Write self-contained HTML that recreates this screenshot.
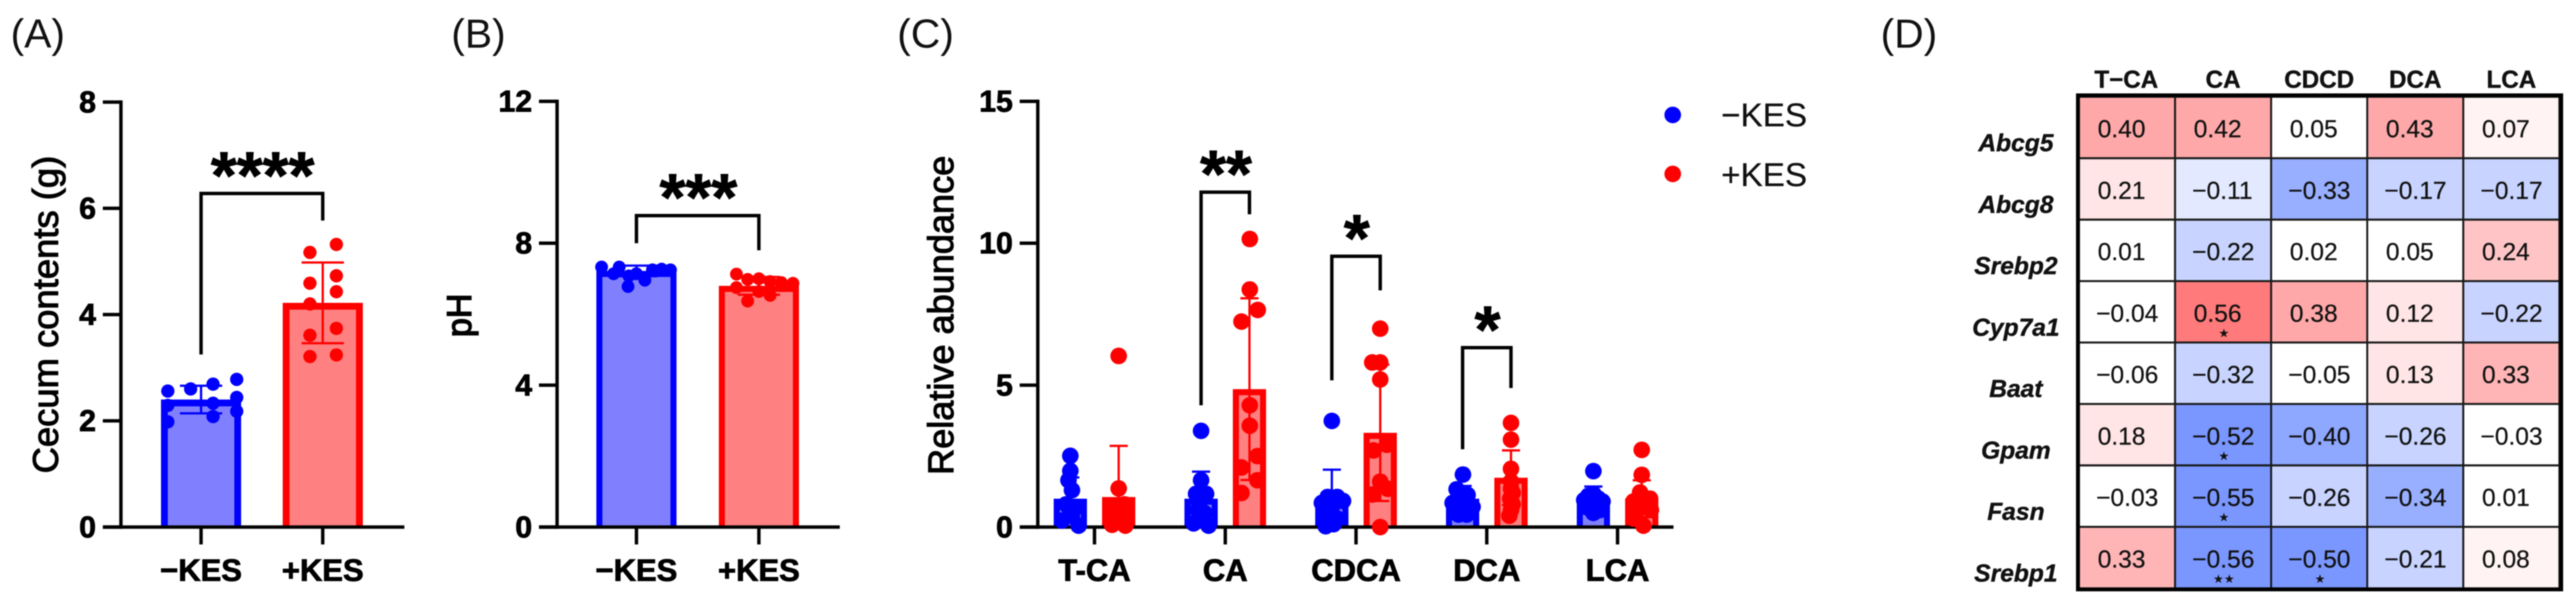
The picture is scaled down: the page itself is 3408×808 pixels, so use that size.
<!DOCTYPE html>
<html lang="en">
<head>
<meta charset="utf-8">
<title>KES cecum, pH, bile acids and gene correlation figure</title>
<style>
html,body{margin:0;padding:0;background:#fff;}
body{width:3408px;height:808px;overflow:hidden;}
svg{display:block;filter:blur(0.8px);font-family:"Liberation Sans",Arial,sans-serif;}
.tick{font-weight:bold;font-size:40px;fill:#000;stroke:#000;stroke-width:1px;}
.title{font-size:47px;fill:#000;stroke:#000;stroke-width:1.3px;}
.panel{font-size:54px;fill:#111;}
.sig{font-weight:bold;font-size:88px;fill:#000;stroke:#000;stroke-width:1px;text-anchor:middle;}
.legend-text{font-size:44px;fill:#111;stroke:#111;stroke-width:.3px;}
.hm-head{font-weight:bold;font-size:32px;fill:#111;stroke:#111;stroke-width:.5px;text-anchor:middle;}
.hm-row{font-weight:bold;font-style:italic;font-size:32.5px;fill:#111;stroke:#111;stroke-width:.5px;text-anchor:middle;}
.hm-val{font-size:32.5px;fill:#111;stroke:#111;stroke-width:.3px;}
.hm-star{font-family:"DejaVu Sans",sans-serif;font-size:16px;fill:#111;text-anchor:middle;}
</style>
</head>
<body>
<svg id="fig" xmlns="http://www.w3.org/2000/svg" width="3408" height="808" viewBox="0 0 3408 808">
  <rect x="0" y="0" width="3408" height="808" fill="#fff"/>
  <text class="panel" x="14" y="63">(A)</text>
  <text class="panel" x="597" y="63">(B)</text>
  <text class="panel" x="1187" y="63">(C)</text>
  <text class="panel" x="2488" y="63">(D)</text>

  <g id="panelA">
    <text class="title" transform="translate(76.5,416) rotate(-90)" text-anchor="middle" textLength="420" lengthAdjust="spacingAndGlyphs">Cecum contents (g)</text>
  </g>
  <g id="panelB">
    <text class="title" transform="translate(623,417) rotate(-90)" text-anchor="middle" style="font-size:45px;stroke-width:1.8px">pH</text>
  </g>
  <g id="panelC">
    <text class="title" transform="translate(1261,417) rotate(-90)" text-anchor="middle" textLength="422" lengthAdjust="spacingAndGlyphs">Relative abundance</text>
  </g>
  <g id="legend">
    <circle cx="2213" cy="152" r="11" fill="#0000ff"/>
    <text class="legend-text" x="2277" y="167">−KES</text>
    <circle cx="2213" cy="230" r="11" fill="#ff0000"/>
    <text class="legend-text" x="2277" y="246">+KES</text>
  </g>
  <g id="panelD"></g>
</svg>
<script>
/* ---------- Panel A data ---------- */
const aCategories = ['−KES', '+KES'];
const aTicks = [0, 2, 4, 6, 8];
const aMeans = [2.4, 4.22];
const aSds = [0.26, 0.76];
const aMinus = [2.56, 2.6, 2.69, 2.78, 2.44, 2.33, 2.29, 2.08, 2.18, 1.98];
const aMinusJitter = [-0.83, -0.26, 0.3, 0.89, 0.89, 0.3, -0.83, 0.3, 0.89, -0.83];
const aPlus = [5.32, 5.17, 4.73, 4.59, 4.43, 4.2, 3.74, 3.61, 3.24, 3.21];
const aPlusJitter = [0.34, -0.32, 0.34, -0.32, 0.34, -0.32, 0.34, -0.32, 0.34, -0.32];
const aBracket = [6.28, 3.25, 5.77];
const aStars = '****';

/* ---------- Panel B data ---------- */
const bCategories = ['−KES', '+KES'];
const bTicks = [0, 4, 8, 12];
const bMeans = [7.22, 6.8];
const bSds = [0.15, 0.25];
const bMinus = [7.33, 7.33, 6.78, 6.96, 7.14, 7.25, 7.27, 7.25, 7.14, 7.08];
const bMinusJitter = [-0.87, -0.43, -0.21, 0.21, 0, 0.4, 0.63, 0.85, -0.57, -0.19];
const bPlus = [7.13, 6.98, 7.0, 6.92, 6.89, 6.87, 6.37, 6.75, 6.64, 6.53];
const bPlusJitter = [-0.56, -0.28, 0, 0.28, 0.56, 0.85, -0.28, -0.56, 0, 0.28];
const bBracket = [8.78, 8.0, 7.8];
const bStars = '***';

/* ---------- Panel C data ---------- */
const cCategories = ['T-CA', 'CA', 'CDCA', 'DCA', 'LCA'];
const cTicks = [0, 5, 10, 15];
const cMeansMinus = [1.0, 1.0, 1.0, 1.0, 1.0];
const cMeansPlus = [1.06, 4.86, 3.32, 1.74, 1.0];
const cSdsMinus = [0.75, 0.95, 1.02, 0.45, 0.43];
const cSdsPlus = [1.8, 3.2, 2.4, 0.96, 0.65];
const cMinus = [
  [2.51, 1.98, 1.65, 1.3, 0.8, 0.65, 0.5, 0.4, 0.23, 0.05],
  [3.39, 1.65, 1.17, 1.17, 0.98, 0.6, 0.5, 0.4, 0.13, 0.05],
  [3.74, 1.06, 1.06, 0.92, 0.85, 0.71, 0.3, 0.3, 0.1, 0.03],
  [1.85, 1.33, 1.13, 0.92, 0.85, 0.71, 0.71, 0.6, 0.44, 0.44],
  [1.97, 1.17, 1.1, 1.0, 0.95, 0.9, 0.8, 0.7, 0.6, 0.5]
];
const cMinusJitter = [
  [0, 0, -0.11, 0.1, -0.25, 0.25, 0, 0.1, -0.5, 0.5],
  [0, 0, -0.3, 0.3, 0, -0.2, 0.2, 0, -0.45, 0.45],
  [0, -0.25, 0.32, 0.67, -0.6, 0, -0.5, 0.32, 0.1, -0.37],
  [0.02, -0.36, 0.3, 0, -0.6, -0.5, 0.6, 0, -0.25, 0.25],
  [0, 0, -0.3, 0.3, -0.55, 0.55, 0, -0.4, 0.4, 0]
];
const cPlus = [
  [6.03, 1.36, 0.8, 0.72, 0.55, 0.5, 0.3, 0.25, 0.08, 0.05],
  [10.15, 8.37, 7.65, 7.24, 4.29, 3.57, 2.5, 2.1, 1.65, 1.2],
  [6.99, 5.8, 5.8, 5.2, 2.9, 2.7, 1.6, 1.35, 1.15, 0.0],
  [3.67, 3.08, 2.05, 1.6, 1.35, 1.2, 1.0, 0.8, 0.6, 0.4],
  [2.72, 1.84, 1.22, 1.0, 0.9, 0.8, 0.6, 0.5, 0.3, 0.05]
];
const cPlusJitter = [
  [0, 0, 0.35, -0.35, 0, 0.4, -0.4, 0.1, -0.4, 0.4],
  [0.02, 0.02, 0.5, -0.48, 0.02, 0.02, 0.48, -0.48, 0.48, -0.48],
  [0, -0.48, 0, 0, 0.4, -0.4, 0, 0.45, -0.45, 0],
  [0, 0, 0, 0, 0, 0.1, -0.05, 0.1, 0, -0.1],
  [0, 0, -0.1, 0.5, -0.5, 0.1, 0.55, -0.35, -0.5, 0.1]
];
const cBracketGroups = [1, 2, 3];
const cBracketTops = [11.8, 9.54, 6.32];
const cBracketLefts = [4.29, 5.17, 2.74];
const cBracketRights = [11.02, 8.34, 4.9];
const cBracketStars = ['**', '*', '*'];

/* ---------- Panel D data ---------- */
const dColumns = ['T−CA', 'CA', 'CDCD', 'DCA', 'LCA'];
const dRows = ['Abcg5', 'Abcg8', 'Srebp2', 'Cyp7a1', 'Baat', 'Gpam', 'Fasn', 'Srebp1'];
const dValues = [
  [0.40, 0.42, 0.05, 0.43, 0.07],
  [0.21, -0.11, -0.33, -0.17, -0.17],
  [0.01, -0.22, 0.02, 0.05, 0.24],
  [-0.04, 0.56, 0.38, 0.12, -0.22],
  [-0.06, -0.32, -0.05, 0.13, 0.33],
  [0.18, -0.52, -0.40, -0.26, -0.03],
  [-0.03, -0.55, -0.26, -0.34, 0.01],
  [0.33, -0.56, -0.50, -0.21, 0.08]
];
const dStars = [
  [0, 0, 0, 0, 0],
  [0, 0, 0, 0, 0],
  [0, 0, 0, 0, 0],
  [0, 1, 0, 0, 0],
  [0, 0, 0, 0, 0],
  [0, 1, 0, 0, 0],
  [0, 1, 0, 0, 0],
  [0, 2, 1, 0, 0]
];

/* ---------- helpers ---------- */
const NS = 'http://www.w3.org/2000/svg';
const BLUE = '#0000ff', RED = '#ff0000', BLUE_FILL = '#8080ff', RED_FILL = '#ff8080';

function mk(tag, attrs, parent) {
  const el = document.createElementNS(NS, tag);
  for (const k in attrs) el.setAttribute(k, attrs[k]);
  parent.appendChild(el);
  return el;
}
function slug(s) {
  return s.replace('−', 'minus-').replace('+', 'plus-').toLowerCase();
}

function drawAxes(root, L, ticks, cats) {
  const y = v => L.y0 - (v / L.max) * (L.y0 - L.y1);
  ticks.forEach(t => {
    const ln = mk('line', {x1: L.ax - 24, x2: L.ax, y1: y(t), y2: y(t), stroke: '#000', 'stroke-width': 4.5}, root);
    
    
    const tx = mk('text', {class: 'tick', x: L.ax - 33, y: y(t) + 13.5, 'text-anchor': 'end'}, root);
    tx.textContent = t;
    
    
  });
  const ya = mk('line', {x1: L.ax, x2: L.ax, y1: L.y1 - 2.25, y2: L.y0 + 2.25, stroke: '#000', 'stroke-width': 4.5}, root);
  
  
  const xa = mk('line', {x1: L.ax - 24, x2: L.xEnd, y1: L.y0, y2: L.y0, stroke: '#000', 'stroke-width': 4.5}, root);
  
  
  cats.forEach((c, i) => {
    const cx = L.cat(i);
    const tk = mk('line', {x1: cx, x2: cx, y1: L.y0, y2: L.y0 + 23, stroke: '#000', 'stroke-width': 4.5}, root);
    
    
    const tx = mk('text', {class: 'tick', x: cx, y: 768, 'text-anchor': 'middle', style: 'font-size:41px'}, root);
    tx.textContent = c;
    
    
  });
}

function drawBar(root, L, cx, mean, color, fill, name) {
  const y = v => L.y0 - (v / L.max) * (L.y0 - L.y1);
  const s = L.barStroke;
  const xl = cx - L.barW / 2 + s / 2, xr = cx + L.barW / 2 - s / 2, yt = y(mean) + s / 2;
  /* open at the bottom: the outline has sides and a top, the axis closes it */
  const r = mk('path', {
    d: 'M' + xl + ',' + L.y0 + ' V' + yt + ' H' + xr + ' V' + L.y0,
    fill: fill, stroke: color, 'stroke-width': s
  }, root);
  
  
}

function drawError(root, L, cx, mean, sd, color, name) {
  const y = v => L.y0 - (v / L.max) * (L.y0 - L.y1);
  const hi = mean + sd, lo = Math.max(0, mean - sd);
  const g = mk('g', {stroke: color, 'stroke-width': 3}, root);
  
  
  mk('line', {x1: cx, x2: cx, y1: y(hi), y2: y(lo)}, g);
  mk('line', {x1: cx - L.cap, x2: cx + L.cap, y1: y(hi), y2: y(hi)}, g);
  mk('line', {x1: cx - L.cap, x2: cx + L.cap, y1: y(lo), y2: y(lo)}, g);
}

function drawPoints(root, L, cx, values, jitter, color, name) {
  const y = v => L.y0 - (v / L.max) * (L.y0 - L.y1);
  values.forEach((v, i) => {
    const c = mk('circle', {cx: cx + jitter[i] * L.barW / 2, cy: y(v), r: L.r, fill: color}, root);
    
    
  });
}

function drawBracket(root, L, xa, xb, top, left, right, stars, name) {
  const y = v => L.y0 - (v / L.max) * (L.y0 - L.y1);
  const p = mk('polyline', {
    points: xa + ',' + y(left) + ' ' + xa + ',' + y(top) + ' ' + xb + ',' + y(top) + ' ' + xb + ',' + y(right),
    fill: 'none', stroke: '#000', 'stroke-width': 4.5
  }, root);
  
  
  const t = mk('text', {class: 'sig', x: (xa + xb) / 2 + 1, y: y(top) + 6}, root);
  t.textContent = stars;
  
  
}

function drawTwoBar(root, L, cats, ticks, means, sds, minus, minusJ, plus, plusJ, bracket, stars) {
  const colors = [BLUE, RED], fills = [BLUE_FILL, RED_FILL];
  cats.forEach((c, i) => drawBar(root, L, L.cat(i), means[i], colors[i], fills[i], 'bar-' + slug(c)));
  drawAxes(root, L, ticks, cats);
  cats.forEach((c, i) => drawError(root, L, L.cat(i), means[i], sds[i], colors[i], 'error-bar-' + slug(c)));
  drawPoints(root, L, L.cat(0), minus, minusJ, BLUE, slug(cats[0]));
  drawPoints(root, L, L.cat(1), plus, plusJ, RED, slug(cats[1]));
  drawBracket(root, L, L.cat(0), L.cat(1), bracket[0], bracket[1], bracket[2], stars, 'comparison');
}

/* ---------- panel A ---------- */
drawTwoBar(document.getElementById('panelA'), {
  ax: 160, xEnd: 535, y0: 697, y1: 135, max: 8,
  cat: i => 266 + 161 * i, barW: 106, barStroke: 9, cap: 28, r: 8.8
}, aCategories, aTicks, aMeans, aSds, aMinus, aMinusJitter, aPlus, aPlusJitter, aBracket, aStars);

/* ---------- panel B ---------- */
drawTwoBar(document.getElementById('panelB'), {
  ax: 737, xEnd: 1111, y0: 697, y1: 134, max: 12,
  cat: i => 842 + 162 * i, barW: 106, barStroke: 8, cap: 28, r: 8.5
}, bCategories, bTicks, bMeans, bSds, bMinus, bMinusJitter, bPlus, bPlusJitter, bBracket, bStars);

/* ---------- panel C ---------- */
(function () {
  const root = document.getElementById('panelC');
  const L = {
    ax: 1373, xEnd: 2214, y0: 697, y1: 134, max: 15,
    cat: i => 1448 + 173 * i, barW: 44, barStroke: 8, cap: 12, r: 11
  };
  const off = 32;
  cCategories.forEach((c, i) => {
    drawBar(root, L, L.cat(i) - off, cMeansMinus[i], BLUE, BLUE_FILL, 'bar-minus-kes-' + slug(c));
    drawBar(root, L, L.cat(i) + off, cMeansPlus[i], RED, RED_FILL, 'bar-plus-kes-' + slug(c));
  });
  drawAxes(root, L, cTicks, cCategories);
  cCategories.forEach((c, i) => {
    drawError(root, L, L.cat(i) - off, cMeansMinus[i], cSdsMinus[i], BLUE, 'error-bar-minus-kes-' + slug(c));
    drawError(root, L, L.cat(i) + off, cMeansPlus[i], cSdsPlus[i], RED, 'error-bar-plus-kes-' + slug(c));
  });
  cCategories.forEach((c, i) => {
    drawPoints(root, L, L.cat(i) - off, cMinus[i], cMinusJitter[i], BLUE, 'minus-kes-' + slug(c));
    drawPoints(root, L, L.cat(i) + off, cPlus[i], cPlusJitter[i], RED, 'plus-kes-' + slug(c));
  });
  cBracketGroups.forEach((g, k) => {
    drawBracket(root, L, L.cat(g) - off, L.cat(g) + off, cBracketTops[k], cBracketLefts[k], cBracketRights[k], cBracketStars[k], 'comparison-' + slug(cCategories[g]));
  });
})();

/* ---------- panel D ---------- */
function cellColor(v) {
  const a = Math.abs(v);
  if (a < 0.065) return '#ffffff';
  if (v > 0) {
    if (a < 0.1) return '#fff3f3';
    if (a < 0.22) return '#ffe5e5';
    if (a < 0.3) return '#ffc5c6';
    if (a < 0.36) return '#ffb5b6';
    if (a < 0.46) return '#ffa8a9';
    return '#ff7a7a';
  }
  if (a < 0.15) return '#e3e9ff';
  if (a < 0.325) return '#c8d4ff';
  if (a < 0.38) return '#98afff';
  if (a < 0.45) return '#8ea7ff';
  return '#7a97ff';
}
(function () {
  const root = document.getElementById('panelD');
  const left = 2750.5, top = 128, colW = 127.1, rowH = 81.25;
  dColumns.forEach((c, j) => {
    const t = mk('text', {class: 'hm-head', x: left + colW * (j + 0.5) - (j === 0 ? 1 : 0), y: 116}, root);
    t.textContent = c;
    
    
  });
  dRows.forEach((r, i) => {
    const t = mk('text', {class: 'hm-row', x: 2667, y: top + rowH * i + 72}, root);
    t.textContent = r;
    
    
    dColumns.forEach((c, j) => {
      const v = dValues[i][j];
      const x = left + colW * j, y = top + rowH * i;
      const cell = mk('rect', {x: x, y: y, width: colW, height: rowH, fill: cellColor(v), stroke: '#1a1a1a', 'stroke-width': 2.6}, root);
      
      
    });
  });
  dRows.forEach((r, i) => {
    dColumns.forEach((c, j) => {
      const v = dValues[i][j];
      const x = left + colW * j, y = top + rowH * i;
      const label = (v < 0 ? '−' : '') + Math.abs(v).toFixed(2);
      const t = mk('text', {class: 'hm-val', x: x + (v < 0 ? 22.7 : 24.7), y: y + 53.5}, root);
      t.textContent = label;
      
      
      if (dStars[i][j] > 0) {
        const s = mk('text', {class: 'hm-star', x: x + colW / 2 + 1, y: y + 74}, root);
        s.textContent = '★'.repeat(dStars[i][j]);
        
        
      }
    });
  });
  const frame = mk('rect', {x: 2749, y: 126, width: 639.5, height: 653.5, fill: 'none', stroke: '#000', 'stroke-width': 5}, root);
  
  
})();
</script>
</body>
</html>
